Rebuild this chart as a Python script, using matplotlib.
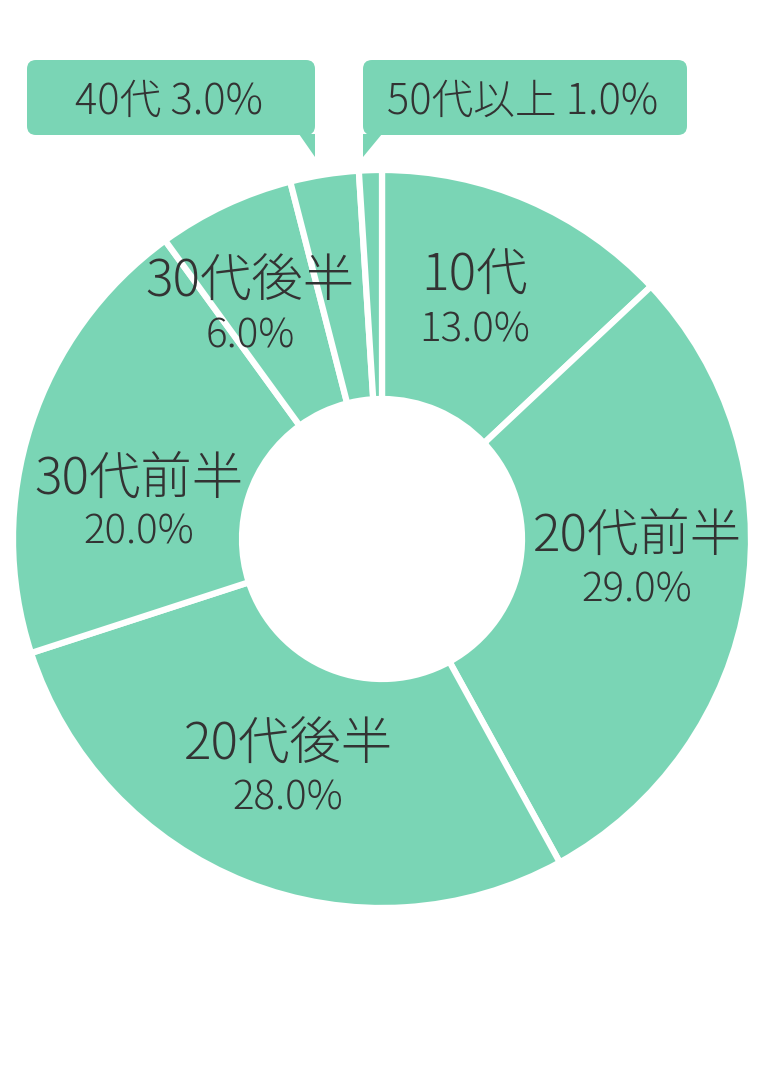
import matplotlib
matplotlib.use('Agg')
import matplotlib.pyplot as plt
from matplotlib.patches import FancyBboxPatch, Polygon

plt.rcParams['font.family'] = ['Noto Sans CJK JP', 'DejaVu Sans']

# Data
categories = ['10代', '20代前半', '20代後半', '30代前半', '30代後半', '40代', '50代以上']
shares = [13.0, 29.0, 28.0, 20.0, 6.0, 3.0, 1.0]

# Canvas in pixel units (y measured from top, flipped below)
W, H = 758, 1086
green = '#7AD5B5'
ink = '#333333'

def fy(y):
    return H - y

fig = plt.figure(figsize=(W / 100, H / 100), dpi=100)
ax = fig.add_axes([0, 0, 1, 1])

cx, cy = 382, 539
r_out, r_in = 369, 140

ax.pie(shares, colors=[green] * len(shares), startangle=90, counterclock=False,
       radius=r_out, center=(cx, fy(cy)),
       wedgeprops=dict(width=r_out - r_in, edgecolor='white', linewidth=4.5))

# Labels inside the ring (first five slices)
label_pos = [(475, 276), (637, 536), (288, 745), (139, 479), (250, 282)]
for name, val, (x, y) in zip(categories[:5], shares[:5], label_pos):
    ax.text(x, fy(y), name, ha='center', va='center', fontsize=37,
            color=ink, fontweight='light')
    ax.text(x, fy(y + 54), f'{val:.1f}%', ha='center', va='center',
            fontsize=29, color=ink, fontweight='light')

# Callout boxes for the two small slices
boxes = [
    # (left, right, top, bottom, tail polygon in px, text centre)
    (27, 315, 60, 135, [(299, 134), (315, 134), (315, 157)], (169, 102)),
    (363, 687, 60, 135, [(363, 134), (382, 134), (363, 157)], (523, 102)),
]
for (name, val), (l, r, t, b, tail, (tx, ty)) in zip(
        zip(categories[5:], shares[5:]), boxes):
    ax.add_patch(FancyBboxPatch((l, fy(b)), r - l, b - t,
                                boxstyle='round,pad=0,rounding_size=9',
                                facecolor=green, edgecolor='none'))
    ax.add_patch(Polygon([(px, fy(py)) for px, py in tail], closed=True,
                         facecolor=green, edgecolor='none'))
    ax.text(tx, fy(ty), f'{name} {val:.1f}%', ha='center', va='center',
            fontsize=30, color=ink, fontweight='light')

ax.set_xlim(0, W)
ax.set_ylim(0, H)
ax.set_aspect('equal')
ax.axis('off')

fig.savefig('out.png', dpi=100, facecolor='white')
